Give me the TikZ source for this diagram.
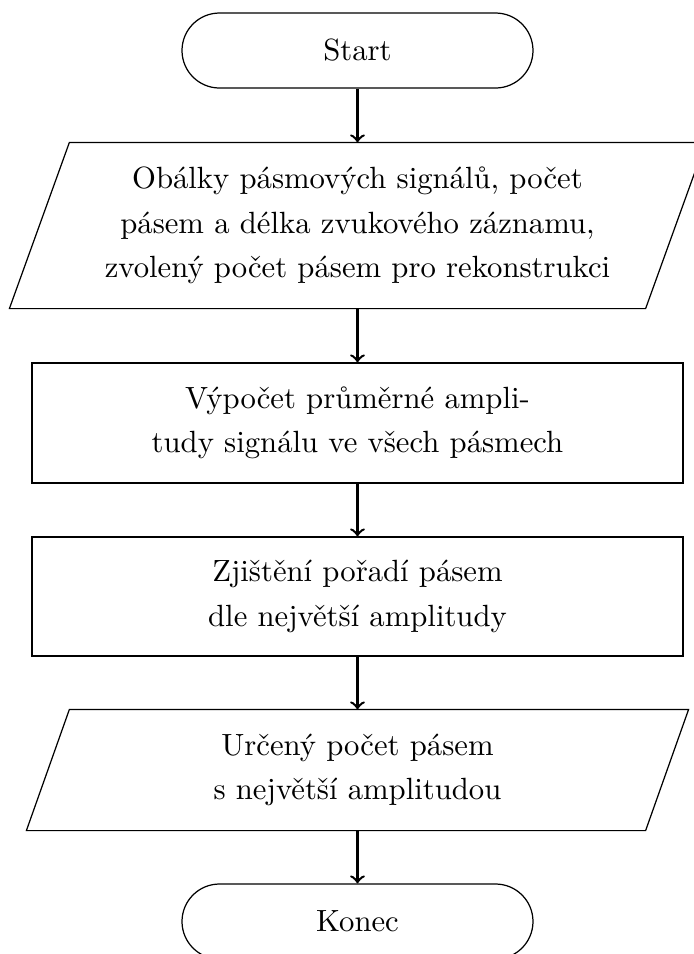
\documentclass[tikz,border=0pt]{standalone}
\usepackage{fontspec}
\linespread{1.2}
\usetikzlibrary{shapes.misc,calc}
% one drawing unit, used for all positions and sizes
\newcommand{\pxu}{0.3257pt}
\begin{document}
\begin{tikzpicture}[x=\pxu,y=-\pxu,
  terminal/.style={rounded rectangle,draw,minimum width=351*\pxu,
    minimum height=75*\pxu,inner sep=0pt},
  procbox/.style={rectangle,draw,minimum width=651*\pxu,
    minimum height=120*\pxu,align=center,inner sep=0pt},
  iobody/.style={rectangle,align=center,inner sep=0pt},
  flow/.style={thick,->}]
\useasboundingbox (0,0) rectangle (694,954);

% start / end terminals
\node[terminal] (start) at (357.5,50.5) {Start};
\node[terminal] (konec) at (357.5,921.5) {Konec};

% input: envelopes and counts
\node[iobody,minimum width=635*\pxu,minimum height=165*\pxu] (in1) at (357.5,225.5)
  {Obálky pásmových signálů, počet\\pásem a délka zvukového záznamu,\\zvolený počet pásem pro rekonstrukci};
\draw ($(in1.north west)+(30,0)$) -- ($(in1.north east)+(30,0)$)
   -- ($(in1.south east)+(-30,0)$) -- ($(in1.south west)+(-30,0)$) -- cycle;

% processing steps
\node[procbox] (avg) at (357.5,423)
  {Výpočet průměrné ampli-\\tudy signálu ve všech pásmech};
\node[procbox,minimum height=119*\pxu] (order) at (357.5,596.5)
  {Zjištění pořadí pásem\\dle největší amplitudy};

% output: selected bands
\node[iobody,minimum width=618*\pxu,minimum height=120*\pxu] (out) at (357.5,770)
  {Určený počet pásem\\s největší amplitudou};
\draw ($(out.north west)+(21.5,0)$) -- ($(out.north east)+(21.5,0)$)
   -- ($(out.south east)+(-21.5,0)$) -- ($(out.south west)+(-21.5,0)$) -- cycle;

% connectors
\draw[flow] (start.south) -- (in1.north);
\draw[flow] (in1.south) -- (avg.north);
\draw[flow] (avg.south) -- (order.north);
\draw[flow] (order.south) -- (out.north);
\draw[flow] (out.south) -- (konec.north);
\end{tikzpicture}
\end{document}
